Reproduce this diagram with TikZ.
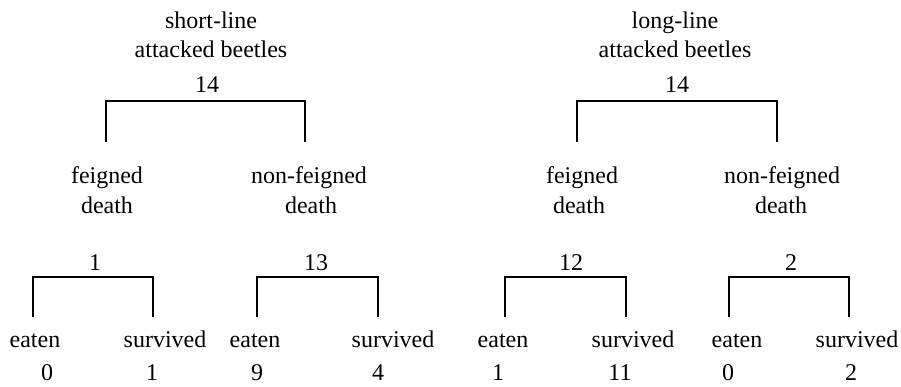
\documentclass[tikz,border=0pt]{standalone}
\usepackage{fontspec}
\setmainfont{Liberation Serif}
\begin{document}
\begin{tikzpicture}[x=1pt,y=-1pt,
  lbl/.style={anchor=base,inner sep=0pt,font=\fontsize{24}{28}\selectfont},
  brk/.style={draw=black,line width=1.3pt}]
\useasboundingbox (0,0) rectangle (901,386);
% top left
\node[lbl] (sl1) at (211,28) {short-line};
\node[lbl] (sl2) at (211,57) {attacked beetles};
\node[lbl] (sn) at (207,92) {14};
\node[lbl] (sf1) at (107,183) {feigned};
\node[lbl] (sf2) at (107,213) {death};
\node[lbl] (snf1) at (309,183) {non-feigned};
\node[lbl] (snf2) at (311,213) {death};
% top right
\node[lbl] (ll1) at (675,28) {long-line};
\node[lbl] (ll2) at (675,57) {attacked beetles};
\node[lbl] (ln) at (677,92) {14};
\node[lbl] (lf1) at (582,183) {feigned};
\node[lbl] (lf2) at (579,213) {death};
\node[lbl] (lnf1) at (782,183) {non-feigned};
\node[lbl] (lnf2) at (781,213) {death};
% counts of second level
\node[lbl] (c1) at (95,270) {1};
\node[lbl] (c2) at (316,270) {13};
\node[lbl] (c3) at (571,270) {12};
\node[lbl] (c4) at (791,270) {2};
% leaves
\node[lbl] (e1) at (35,347) {eaten};
\node[lbl] (s1) at (165,347) {survived};
\node[lbl] (e2) at (255,347) {eaten};
\node[lbl] (s2) at (393,347) {survived};
\node[lbl] (e3) at (503,347) {eaten};
\node[lbl] (s3) at (633,347) {survived};
\node[lbl] (e4) at (737,347) {eaten};
\node[lbl] (s4) at (857,347) {survived};
\node[lbl] (ne1) at (47,380) {0};
\node[lbl] (ns1) at (152,380) {1};
\node[lbl] (ne2) at (257,380) {9};
\node[lbl] (ns2) at (378,380) {4};
\node[lbl] (ne3) at (498,380) {1};
\node[lbl] (ns3) at (620,380) {11};
\node[lbl] (ne4) at (728,380) {0};
\node[lbl] (ns4) at (851,380) {2};
% bracket leg ends
\coordinate (tA1) at (106,142); \coordinate (tA2) at (305,142);
\coordinate (tB1) at (577,142); \coordinate (tB2) at (777,142);
\coordinate (bA1) at (33,317);  \coordinate (bA2) at (153,317);
\coordinate (bB1) at (257,317); \coordinate (bB2) at (378,317);
\coordinate (bC1) at (505,317); \coordinate (bC2) at (626,317);
\coordinate (bD1) at (729,317); \coordinate (bD2) at (849,317);
\foreach \a/\b in {tA1/tA2,tB1/tB2}
  \draw[brk] (\a) -- ++(0,-41) -| (\b);
\foreach \a/\b in {bA1/bA2,bB1/bB2,bC1/bC2,bD1/bD2}
  \draw[brk] (\a) -- ++(0,-40) -| (\b);
\end{tikzpicture}
\end{document}
